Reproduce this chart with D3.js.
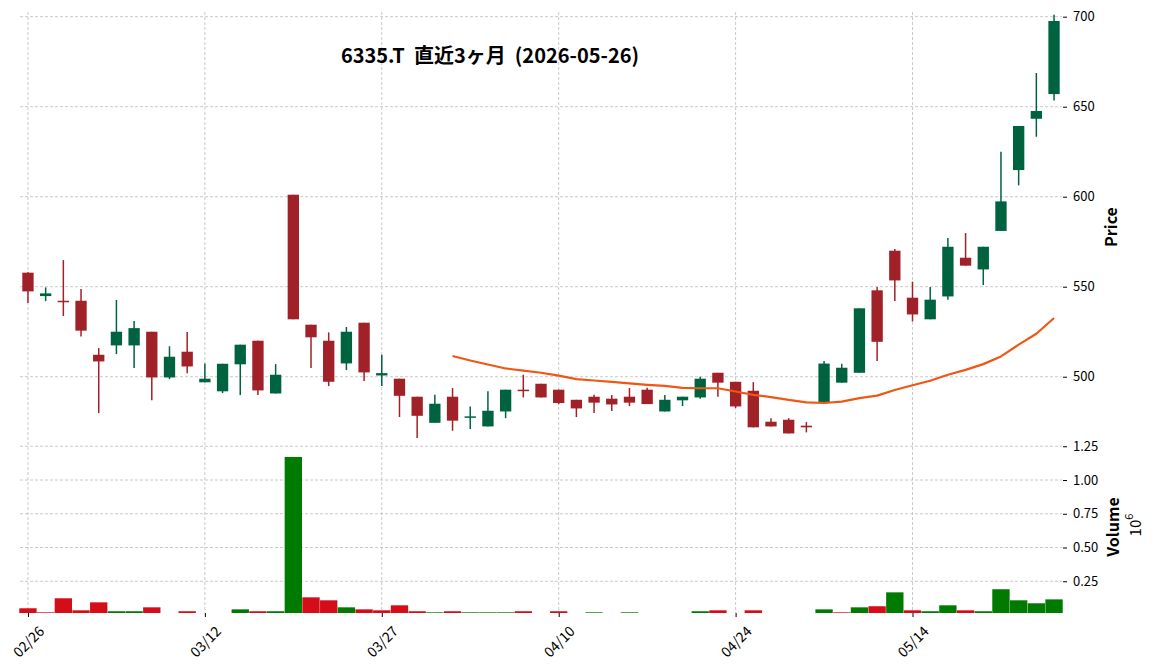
<!DOCTYPE html>
<html><head><meta charset="utf-8">
<script src="https://cdn.jsdelivr.net/npm/d3@7"></script>
<style>
body{margin:0;background:#fff}
svg{display:block}
text{font-family:"Noto Sans CJK JP","Noto Sans",sans-serif;fill:#000}
</style>
</head><body>
<svg id="c" width="1156" height="670"></svg>
<script>
// ---------------- DATA ----------------
const dates = ["02/26","02/27","03/02","03/03","03/04","03/05","03/06","03/09","03/10","03/11",
  "03/12","03/13","03/16","03/17","03/18","03/19","03/23","03/24","03/25","03/26",
  "03/27","03/30","03/31","04/01","04/02","04/03","04/06","04/07","04/08","04/09",
  "04/10","04/13","04/14","04/15","04/16","04/17","04/20","04/21","04/22","04/23",
  "04/24","04/27","04/28","04/30","05/01","05/07","05/08","05/11","05/12","05/13",
  "05/14","05/15","05/18","05/19","05/20","05/21","05/22","05/25","05/26"];
const opens  = [557.8,544.8,542.2,542.2,512.2,517.4,517.4,525.0,499.6,513.9,
  496.9,491.9,506.9,520.0,490.7,601.1,528.9,520.0,507.4,530.0,
  500.7,498.9,488.9,474.4,488.9,477.4,472.4,480.7,492.8,496.1,
  492.8,487.2,488.9,487.8,488.9,492.8,480.7,486.9,488.5,502.2,
  497.2,492.2,475.0,476.1,472.8,486.0,496.7,502.2,548.0,570.0,
  543.9,531.9,544.6,566.1,559.6,581.0,614.8,643.3,657.0];
const highs  = [558.0,549.6,564.8,548.7,515.9,542.6,530.9,525.0,516.9,524.8,
  507.4,507.2,517.8,520.0,507.0,601.1,528.9,524.6,527.6,530.0,
  512.2,498.9,488.9,490.0,493.7,483.5,492.0,492.8,501.1,496.1,
  492.8,487.2,490.0,489.8,493.7,493.9,489.8,488.9,500.0,502.2,
  497.2,497.0,477.0,477.0,474.8,508.7,507.2,538.0,549.8,570.9,
  552.8,549.8,577.0,579.8,572.2,625.0,639.3,668.7,701.1];
const lows   = [541.0,542.0,533.7,522.4,479.8,512.6,504.8,487.0,498.7,502.0,
  496.9,490.9,489.8,489.8,490.7,531.9,504.8,494.8,503.7,497.6,
  494.8,477.6,465.9,474.4,470.0,471.0,472.4,477.0,488.5,488.5,
  484.8,477.6,479.8,480.9,483.7,484.8,480.7,483.7,487.8,488.9,
  482.6,471.9,472.4,468.5,469.1,485.5,496.7,502.2,508.7,542.0,
  530.7,531.9,542.8,561.7,550.9,581.0,606.3,633.3,653.5];
const closes = [547.4,546.3,542.0,525.6,508.5,525.0,527.0,499.6,511.1,505.7,
  498.9,507.2,517.8,492.4,501.1,531.9,521.9,497.2,525.0,502.4,
  502.0,489.4,478.3,485.0,475.6,478.0,481.1,492.8,492.0,488.5,
  485.4,482.4,485.6,484.6,485.6,484.8,487.2,488.9,498.9,496.7,
  483.5,471.9,472.4,468.5,471.9,507.3,505.0,538.0,519.4,553.5,
  534.6,542.8,572.2,561.7,572.2,597.4,639.3,647.6,697.6];
// volume in millions of shares
const volumes = [0.050,0.020,0.124,0.035,0.094,0.028,0.028,0.057,0.005,0.028,
  0.005,0.005,0.042,0.028,0.028,1.171,0.131,0.109,0.057,0.042,
  0.035,0.072,0.028,0.020,0.028,0.020,0.020,0.020,0.028,0.005,
  0.028,0.005,0.020,0.005,0.020,0.005,0.005,0.005,0.028,0.035,
  0.005,0.035,0.005,0.005,0.005,0.042,0.020,0.057,0.065,0.168,
  0.035,0.028,0.072,0.035,0.028,0.191,0.109,0.087,0.116];
// 25-day moving average (values from index 24 onward)
const maStart = 24;
const ma25 = [511.5,509.0,506.8,504.6,503.4,502.2,500.6,498.7,497.9,497.1,
  496.3,495.5,494.9,493.8,493.6,493.6,491.8,489.9,488.7,487.1,
  485.8,485.4,486.2,488.1,489.5,492.6,495.3,497.8,501.1,503.8,
  507.0,511.3,517.8,523.9,532.6];
const priceTicks = [500,550,600,650,700];
const volTicks = [0.25,0.50,0.75,1.00,1.25];
const xTickLabels = ["02/26","03/12","03/27","04/10","04/24","05/14"];
const titleText = "6335.T  直近3ヶ月  (2026-05-26)";

// ---------------- STYLE ----------------
const C = {up:"#006340", down:"#a02128", vup:"#007a00", vdown:"#d50d18", ma:"#ef5714", grid:"#bdbdbd"};
const L = {left:20, right:1062, pTop:12, pBot:441, vTop:441, vBot:613};

const svg = d3.select("#c");
const n = dates.length;
const x = d3.scaleLinear().domain([-0.45, n - 1 + 0.45]).range([L.left, L.right]);
const step = x(1) - x(0);
const yP = d3.scaleLinear().domain([464.3, 702.6]).range([L.pBot, L.pTop]);
const yV = d3.scaleLinear().domain([0.015, 1.289]).range([L.vBot, L.vTop]);

const tickIdx = xTickLabels.map(l => dates.indexOf(l));

// grid
const g = svg.append("g").attr("stroke", C.grid).attr("stroke-width", 0.8).attr("stroke-dasharray", "3,2").attr("fill","none");
tickIdx.forEach(i => g.append("line").attr("x1", x(i)).attr("x2", x(i)).attr("y1", L.pTop).attr("y2", L.vBot));
priceTicks.forEach(p => g.append("line").attr("x1", L.left).attr("x2", L.right).attr("y1", yP(p)).attr("y2", yP(p)));
volTicks.forEach(v => g.append("line").attr("x1", L.left).attr("x2", L.right).attr("y1", yV(v)).attr("y2", yV(v)));

// volume bars
const vcol = (i) => (i === 0 ? (closes[0] >= opens[0]) : (closes[i] >= closes[i-1])) ? C.vup : C.vdown;
svg.append("g").selectAll("rect").data(volumes).join("rect")
  .attr("x", (d,i) => x(i) - step*0.49)
  .attr("width", step*0.98)
  .attr("y", d => Math.min(yV(d), L.vBot))
  .attr("height", d => Math.max(0, L.vBot - yV(d)))
  .attr("fill", (d,i) => vcol(i));

// candles
const cg = svg.append("g");
const bw = step * 0.64;
d3.range(n).forEach(i => {
  const col = closes[i] >= opens[i] ? C.up : C.down;
  cg.append("line").attr("x1", x(i)).attr("x2", x(i))
    .attr("y1", yP(highs[i])).attr("y2", yP(lows[i]))
    .attr("stroke", col).attr("stroke-width", 1.5);
  const top = yP(Math.max(opens[i], closes[i]));
  const bot = yP(Math.min(opens[i], closes[i]));
  cg.append("rect").attr("x", x(i) - bw/2).attr("width", bw)
    .attr("y", top).attr("height", Math.max(1.5, bot - top)).attr("fill", col);
});

// moving average
const line = d3.line().x(d => x(d.i)).y(d => yP(d.v));
svg.append("path").datum(ma25.map((v,k) => ({i: k + maStart, v})))
  .attr("d", line).attr("fill","none").attr("stroke", C.ma).attr("stroke-width", 2.2)
  .attr("stroke-linejoin","round");

// price axis
const pa = svg.append("g").attr("transform", `translate(${L.right+1},0)`)
  .call(d3.axisRight(yP).tickValues(priceTicks).tickSize(4).tickPadding(6).tickFormat(d3.format("d")));
pa.select(".domain").remove();
// volume axis
const va = svg.append("g").attr("transform", `translate(${L.right+1},0)`)
  .call(d3.axisRight(yV).tickValues(volTicks).tickSize(4).tickPadding(6).tickFormat(d3.format(".2f")));
va.select(".domain").remove();
[pa, va].forEach(a => a.selectAll("text").attr("font-size", 13).attr("font-family", '"Noto Sans CJK JP","Noto Sans",sans-serif').attr("fill","#000"));

// x axis
const xa = svg.append("g").attr("transform", `translate(0,${L.vBot})`)
  .call(d3.axisBottom(x).tickValues(tickIdx).tickSize(4).tickFormat(""));
xa.select(".domain").remove();
tickIdx.forEach((i,k) => {
  svg.append("text").attr("transform", `translate(${x(i)},641) rotate(-45)`)
    .attr("text-anchor","middle").attr("dominant-baseline","central")
    .attr("font-size", 14).text(xTickLabels[k]);
});

// labels
svg.append("text").attr("transform","translate(1110,227) rotate(-90)")
  .attr("text-anchor","middle").attr("dominant-baseline","central")
  .attr("font-size",16).attr("font-weight","bold").text("Price");
svg.append("text").attr("transform","translate(1112,527) rotate(-90)")
  .attr("text-anchor","middle").attr("dominant-baseline","central")
  .attr("font-size",16).attr("font-weight","bold").text("Volume");
const ot = svg.append("text").attr("transform","translate(1134,525) rotate(-90)")
  .attr("text-anchor","middle").attr("dominant-baseline","central").attr("font-size",15);
ot.append("tspan").text("10");
ot.append("tspan").attr("dy",-6).attr("font-size",11).text("6");

// title
svg.append("text").attr("x", 490).attr("y", 63).attr("text-anchor","middle")
  .attr("font-size", 20).attr("font-weight","bold").style("white-space","pre").text(titleText);
</script>
</body></html>
